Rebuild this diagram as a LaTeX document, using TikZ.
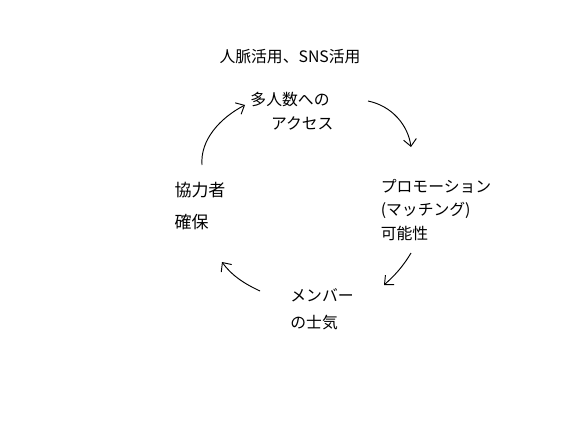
\documentclass[tikz,border=0pt]{standalone}
\usepackage{fontspec}
\setmainfont{Noto Sans CJK JP}
\usetikzlibrary{arrows.meta}
\begin{document}
\begin{tikzpicture}[x=0.03cm,y=-0.03cm,
  lbl/.style={font=\fontsize{13.5pt}{20pt}\selectfont, align=left, inner sep=0pt},
  arr/.style={line width=0.8pt, -{Straight Barb[length=6pt,width=11pt]}}]
\useasboundingbox (0,0) rectangle (567,425);
\node[lbl] (top) at (290,57) {人脈活用、SNS活用};
\node[lbl] (acc) at (292,111) {多人数への\\\hspace*{1.3em}アクセス};
\node[lbl] (pro) at (436,210) {プロモーション\\(マッチング)\\可能性};
\node[lbl] (mem) at (322,309) {メンバー\\[3pt]の士気};
\node[lbl, font=\fontsize{14.5pt}{20pt}\selectfont] (kyo) at (200,206) {協力者\\[8pt]確保};
\coordinate (a1s) at (368,101);
\coordinate (a1e) at (411,147);
\coordinate (a2s) at (411,253);
\coordinate (a2e) at (384,285);
\coordinate (a3s) at (260,291);
\coordinate (a3e) at (222,262);
\coordinate (a4s) at (202,165);
\coordinate (a4e) at (245,105);
\draw[arr] (a1s) .. controls (392,106) and (408,125) .. (a1e);
\draw[arr] (a2s) .. controls (402,268) and (394,276) .. (a2e);
\draw[arr] (a3s) .. controls (245,284) and (232,276) .. (a3e);
\draw[arr] (a4s) .. controls (200,140) and (220,118) .. (a4e);
\end{tikzpicture}
\end{document}
